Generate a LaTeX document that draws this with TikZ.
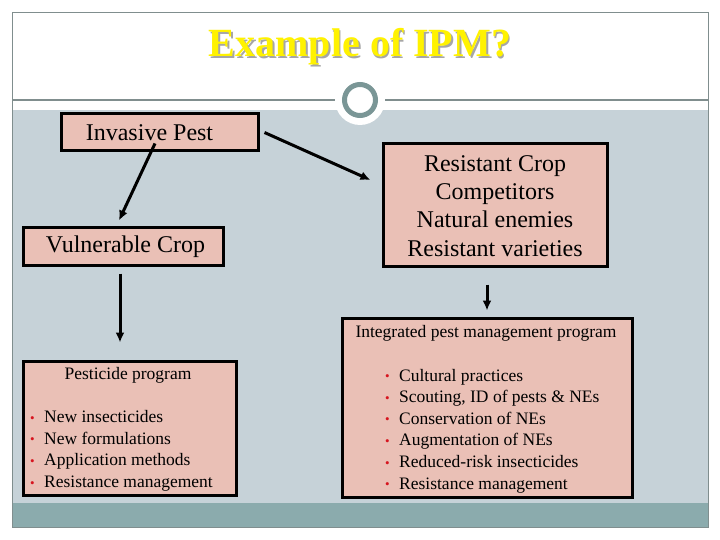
\documentclass[tikz,border=0pt]{standalone}
\usepackage{fontspec}
\setmainfont{Liberation Serif}
\usetikzlibrary{arrows.meta}
\definecolor{contentbg}{RGB}{198,210,216}
\definecolor{barteal}{RGB}{139,171,173}
\definecolor{boxfill}{RGB}{234,192,182}
\definecolor{framegrey}{RGB}{128,142,142}
\definecolor{ringgrey}{RGB}{122,150,150}
\definecolor{bulletred}{RGB}{215,20,30}
\newcommand\rbul{\makebox[14pt][l]{\raisebox{0.5pt}{\textcolor{bulletred}{\fontsize{13}{13}\selectfont •}}}}
\begin{document}
\begin{tikzpicture}[x=1pt,y=-1pt,
  box/.style={draw=black, line width=3pt, fill=boxfill, inner sep=0pt},
  biglbl/.style={font=\fontsize{24}{28.3}\selectfont, inner sep=0pt, align=center},
  smalllbl/.style={font=\fontsize{17.5}{21.6}\selectfont, inner sep=0pt, align=left},
  arr/.style={line width=3pt, -{Latex[length=10pt,width=9pt]}}]
\useasboundingbox (0,0) rectangle (720,540);
\fill[white] (0,0) rectangle (720,540);
% slide background
\fill[contentbg] (12,110) rectangle (708,503);
\fill[barteal] (12,503) rectangle (708,527);
\draw[framegrey, line width=0.8pt] (12,12) rectangle (708,527);
\draw[framegrey, line width=1.2pt] (12,100) -- (708,100);
\fill[white] (360,100) circle (25);
\draw[ringgrey, line width=5pt, fill=white] (360,100) circle (15.5);
% title with shadow
\node[font=\fontsize{40}{48}\selectfont\bfseries, text=yellow, inner sep=0pt] (title) at (360,48)
  {\makebox[0pt][l]{\hspace{1.8pt}\raisebox{-1.8pt}{\textcolor{black!35}{Example of IPM?}}}Example of IPM?};
% boxes
\node[box, minimum width=197pt, minimum height=37pt] (ip) at (159.5,132.5) {};
\node[biglbl] (iplbl) at (149.5,132.5) {Invasive Pest};
\node[box, minimum width=200pt, minimum height=37pt] (vc) at (123,246.5) {};
\node[biglbl] (vclbl) at (125.5,247) {Vulnerable Crop};
\node[box, minimum width=224pt, minimum height=122pt] (rc) at (495,205) {};
\node[biglbl] (rclbl) at (495,206) {Resistant Crop\\Competitors\\ Natural enemies\\Resistant varieties};
\node[box, minimum width=213pt, minimum height=134pt] (pp) at (129.5,428) {};
\node[smalllbl] (pptitle) at (128,375) {Pesticide program};
\node[smalllbl, anchor=west] (pplist) at (30,451) {\rbul New insecticides\\ \rbul New formulations\\ \rbul Application methods\\ \rbul Resistance management};
\node[box, minimum width=290pt, minimum height=179pt] (ipm) at (487,407.5) {};
\node[smalllbl] (ipmtitle) at (486,333) {Integrated pest management program};
\node[smalllbl, anchor=west] (ipmlist) at (385,431) {\rbul Cultural practices\\ \rbul Scouting, ID of pests \& NEs\\ \rbul Conservation of NEs\\ \rbul Augmentation of NEs\\ \rbul Reduced-risk insecticides\\ \rbul Resistance management};
% arrows
\draw[arr] ([shift={(-4.5,11)}]ip.center) -- ([shift={(-4,-6)}]vc.north);
\draw[arr] ([shift={(5,0)}]ip.east) -- ([shift={(-11,-25)}]rc.west);
\draw[arr] ([shift={(-3,7)}]vc.south) -- ([shift={(-9.5,-17)}]pp.north);
\draw[arr] ([shift={(-8,17)}]rc.south) -- ([shift={(0,-6)}]ipm.north);
\end{tikzpicture}
\end{document}
